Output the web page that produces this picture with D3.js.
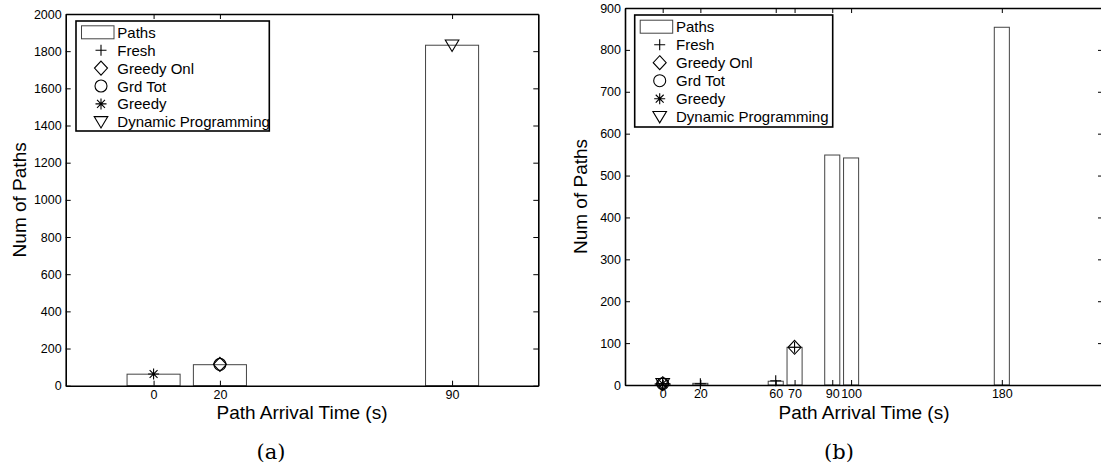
<!DOCTYPE html>
<html>
<head>
<meta charset="utf-8">
<script src="https://cdn.jsdelivr.net/npm/d3@7"></script>
<style>
  html, body { margin: 0; padding: 0; background: #fff; }
  svg { display: block; }
  text { font-family: "Liberation Sans", Arial, sans-serif; fill: #000; }
</style>
</head>
<body>
<svg id="chart" width="1101" height="466"></svg>
<script>
// ---------- Data ----------
// Panel (a)
const categoriesA = [0, 20, 90];
const pathsA = [62, 113, 1832];
const yTicksA = [0, 200, 400, 600, 800, 1000, 1200, 1400, 1600, 1800, 2000];
const freshA = [];
const greedyOnlA = [[20, 115]];
const grdTotA = [[20, 115]];
const greedyA = [[0, 63]];
const dynProgA = [[90, 1832]];

// Panel (b)
const categoriesB = [0, 20, 60, 70, 90, 100, 180];
const pathsB = [3, 4, 9, 90, 549, 542, 854];
const yTicksB = [0, 100, 200, 300, 400, 500, 600, 700, 800, 900];
const freshB = [[0, 3], [20, 3], [60, 10], [70, 90]];
const greedyOnlB = [[0, 3], [70, 90]];
const grdTotB = [[0, 3]];
const greedyB = [[0, 3]];
const dynProgB = [[0, 3]];

const legendLabels = ["Paths", "Fresh", "Greedy Onl", "Grd Tot", "Greedy", "Dynamic Programming"];
const markerKinds = ["plus", "diamond", "circle", "asterisk", "triangle"];

// ---------- Drawing ----------
const svg = d3.select("#chart");

function markerPath(kind) {
  const p = d3.path();
  if (kind === "plus") {
    const r = 5.5;
    p.moveTo(-r, 0); p.lineTo(r, 0); p.moveTo(0, -r); p.lineTo(0, r);
  } else if (kind === "diamond") {
    const rx = 6.5, ry = 7;
    p.moveTo(0, -ry); p.lineTo(rx, 0); p.lineTo(0, ry); p.lineTo(-rx, 0); p.closePath();
  } else if (kind === "circle") {
    p.arc(0, 0, 6, 0, 2 * Math.PI);
  } else if (kind === "asterisk") {
    const r = 5.5, d = r * 0.72;
    p.moveTo(-r, 0); p.lineTo(r, 0); p.moveTo(0, -r); p.lineTo(0, r);
    p.moveTo(-d, -d); p.lineTo(d, d); p.moveTo(-d, d); p.lineTo(d, -d);
  } else if (kind === "triangle") {
    p.moveTo(-6.8, -5.2); p.lineTo(6.8, -5.2); p.lineTo(0, 6.2); p.closePath();
  }
  return p.toString();
}

function drawPanel(cfg) {
  const g = svg.append("g");
  const x = d3.scaleLinear().domain(cfg.xDomain).range([cfg.left, cfg.right]);
  const y = d3.scaleLinear().domain(cfg.yDomain).range([cfg.bottom, cfg.top]);

  // bars
  g.selectAll("rect.bar").data(cfg.categories.map((c, i) => ({ c, v: cfg.paths[i] })))
    .enter().append("rect")
    .attr("class", "bar")
    .attr("x", d => x(d.c - cfg.barW / 2))
    .attr("width", d => x(d.c + cfg.barW / 2) - x(d.c - cfg.barW / 2))
    .attr("y", d => y(d.v))
    .attr("height", d => y(0) - y(d.v))
    .attr("fill", "#fff")
    .attr("stroke", "#444")
    .attr("stroke-width", 1);

  // markers
  cfg.series.forEach((pts, si) => {
    g.selectAll(null).data(pts).enter().append("path")
      .attr("d", markerPath(markerKinds[si]))
      .attr("transform", d => `translate(${x(d[0])},${y(d[1])})`)
      .attr("fill", "none")
      .attr("stroke", "#000")
      .attr("stroke-width", 1.1);
  });

  // axes
  const styleAxis = sel => {
    sel.select(".domain").attr("stroke", "#000").attr("stroke-width", 1.6);
    sel.selectAll(".tick line").attr("stroke", "#000").attr("stroke-width", 1);
    sel.selectAll(".tick text").style("font-family", '"Liberation Sans", Arial, sans-serif')
      .style("font-size", "12.5px").attr("fill", "#000");
  };
  g.append("g").attr("transform", `translate(0,${cfg.bottom})`)
    .call(d3.axisBottom(x).tickValues(cfg.categories).tickFormat(d3.format("d"))
      .tickSizeInner(-5).tickSizeOuter(0).tickPadding(4))
    .call(styleAxis);
  g.append("g").attr("transform", `translate(0,${cfg.top})`)
    .call(d3.axisTop(x).tickValues(cfg.categories).tickFormat("")
      .tickSizeInner(-5).tickSizeOuter(0))
    .call(styleAxis);
  g.append("g").attr("transform", `translate(${cfg.left},0)`)
    .call(d3.axisLeft(y).tickValues(cfg.yTicks).tickFormat(d3.format("d"))
      .tickSizeInner(-5).tickSizeOuter(0).tickPadding(4))
    .call(styleAxis);
  g.append("g").attr("transform", `translate(${cfg.right},0)`)
    .call(d3.axisRight(y).tickValues(cfg.yTicks).tickFormat("")
      .tickSizeInner(-5).tickSizeOuter(0))
    .call(styleAxis);

  // axis labels
  g.append("text")
    .attr("x", (cfg.left + cfg.right) / 2)
    .attr("y", 419)
    .attr("text-anchor", "middle")
    .style("font-size", "19px")
    .text("Path Arrival Time (s)");
  g.append("text")
    .attr("transform", `translate(${cfg.yLabelX},${(cfg.top + cfg.bottom) / 2}) rotate(-90)`)
    .attr("text-anchor", "middle")
    .style("font-size", "19px")
    .text("Num of Paths");

  // caption
  g.append("text")
    .attr("x", cfg.captionX).attr("y", 458.5)
    .attr("text-anchor", "middle")
    .style("font-family", '"DejaVu Serif", "Liberation Serif", serif')
    .style("font-size", "21px")
    .text(cfg.caption);

  // legend
  const L = cfg.legend;
  const lg = g.append("g");
  lg.append("rect")
    .attr("x", L.x).attr("y", L.y).attr("width", L.w).attr("height", L.h)
    .attr("fill", "#fff").attr("stroke", "#000").attr("stroke-width", 1.6);
  legendLabels.forEach((lab, i) => {
    const cy = L.y + L.first + i * L.step;
    if (i === 0) {
      lg.append("rect")
        .attr("x", L.x + 5.5).attr("y", cy - 6.5).attr("width", 32.5).attr("height", 13)
        .attr("fill", "#fff").attr("stroke", "#444").attr("stroke-width", 1);
    } else {
      lg.append("path")
        .attr("d", markerPath(markerKinds[i - 1]))
        .attr("transform", `translate(${L.x + 25},${cy})`)
        .attr("fill", "none").attr("stroke", "#000").attr("stroke-width", 1.1);
    }
    lg.append("text")
      .attr("x", L.x + 41.3).attr("y", cy + 5.5)
      .style("font-size", "15px")
      .text(lab);
  });
}

drawPanel({
  categories: categoriesA, paths: pathsA, yTicks: yTicksA,
  series: [freshA, greedyOnlA, grdTotA, greedyA, dynProgA],
  xDomain: [-26.5, 116], yDomain: [0, 2000],
  left: 65.7, right: 538.3, top: 14, bottom: 385.7,
  barW: 16, yLabelX: 26, caption: "(a)", captionX: 271,
  legend: { x: 76, y: 21, w: 193.3, h: 110, first: 11.3, step: 17.9 }
});

drawPanel({
  categories: categoriesB, paths: pathsB, yTicks: yTicksB,
  series: [freshB, greedyOnlB, grdTotB, greedyB, dynProgB],
  xDomain: [-20, 233.7], yDomain: [0, 900],
  left: 625, right: 1103, top: 8, bottom: 385,
  barW: 8, yLabelX: 587, caption: "(b)", captionX: 839,
  legend: { x: 634.7, y: 15, w: 198, h: 112, first: 11.7, step: 18 }
});
</script>
</body>
</html>
